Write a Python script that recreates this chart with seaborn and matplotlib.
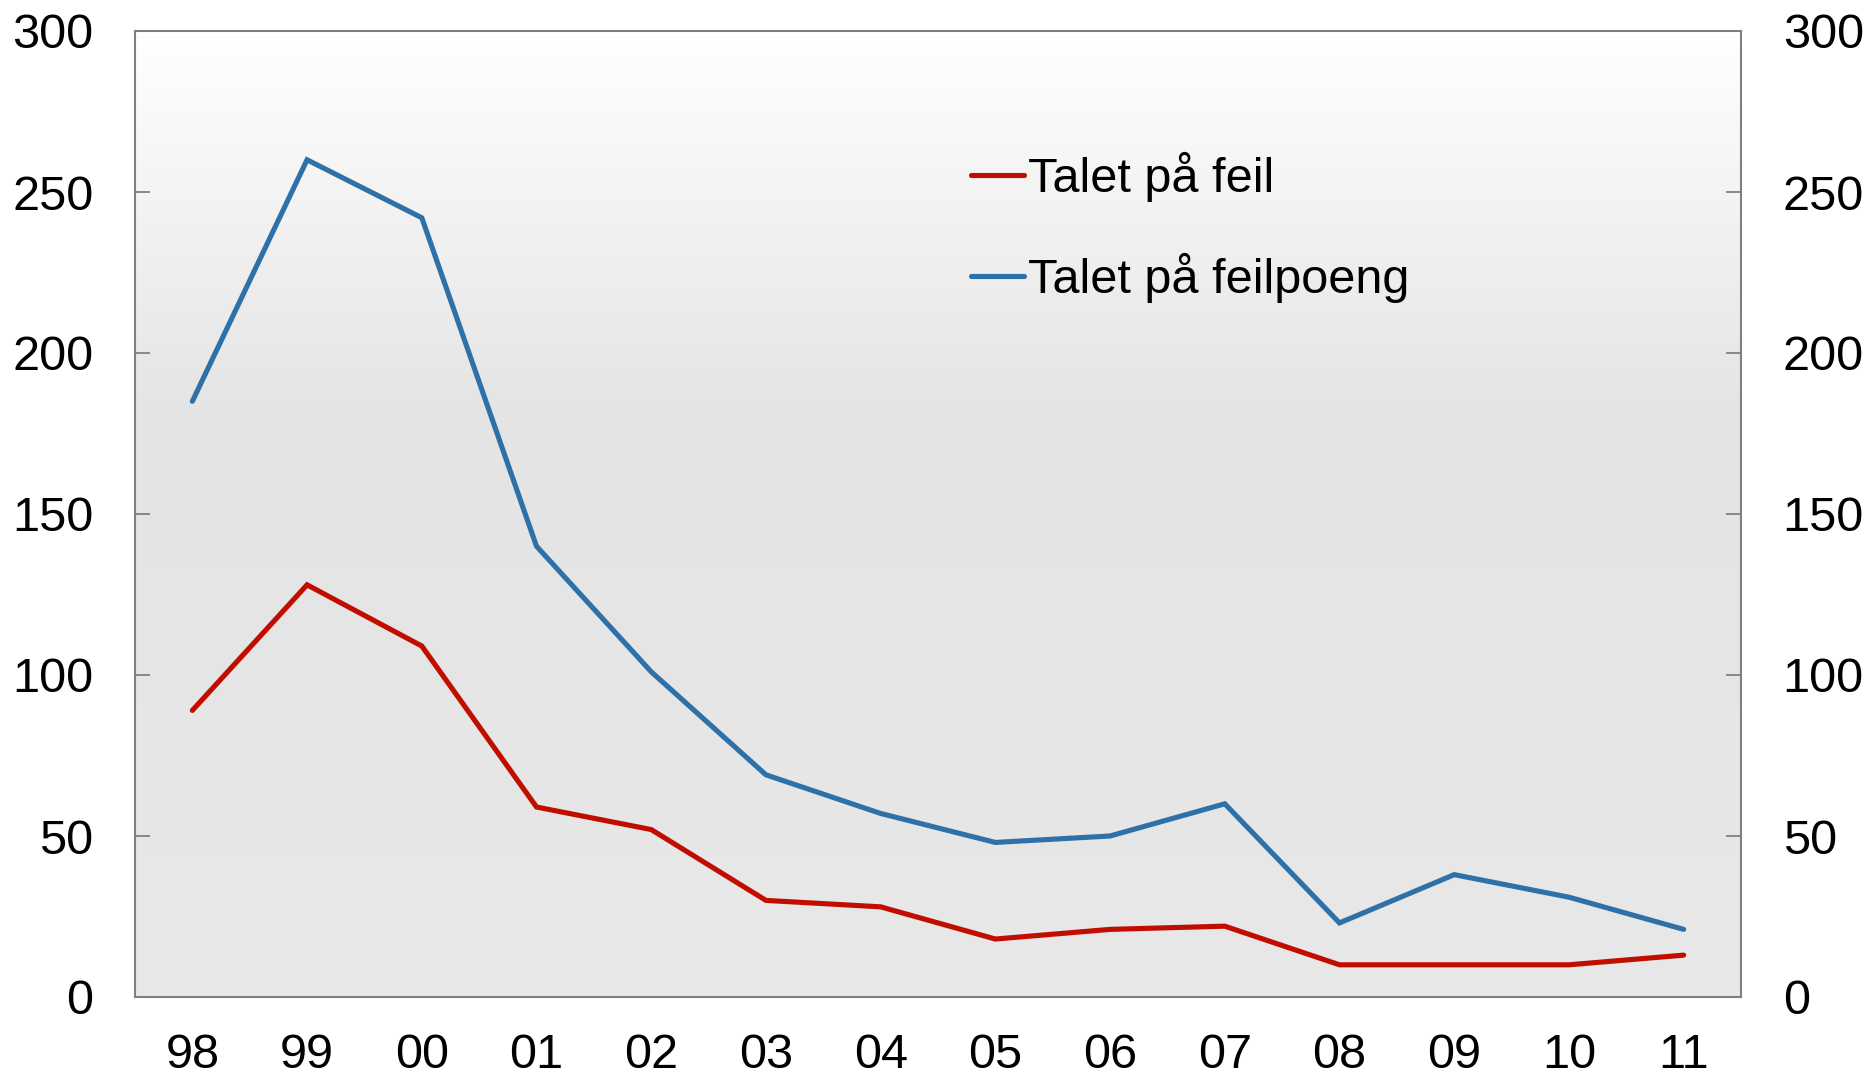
import numpy as np
import pandas as pd
import matplotlib
matplotlib.use("Agg")
import matplotlib.pyplot as plt
import seaborn as sns
from matplotlib.colors import LinearSegmentedColormap

# Data
years = ["98", "99", "00", "01", "02", "03", "04", "05", "06", "07", "08", "09", "10", "11"]
talet_feil = [89, 128, 109, 59, 52, 30, 28, 18, 21, 22, 10, 10, 10, 13]
talet_feilpoeng = [185, 260, 242, 140, 101, 69, 57, 48, 50, 60, 23, 38, 31, 21]
series_names = ["Talet på feil", "Talet på feilpoeng"]
series_colors = ["#C00D00", "#2E71A8"]
y_ticks = [0, 50, 100, 150, 200, 250, 300]

df = pd.concat([
    pd.DataFrame({"pos": range(len(years)), "value": talet_feil, "serie": series_names[0]}),
    pd.DataFrame({"pos": range(len(years)), "value": talet_feilpoeng, "serie": series_names[1]}),
])

sns.set_style("white")
plt.rcParams["font.family"] = ["Liberation Sans", "DejaVu Sans"]
plt.rcParams["text.color"] = "black"
plt.rcParams["xtick.labelcolor"] = "black"
plt.rcParams["ytick.labelcolor"] = "black"

fig = plt.figure(figsize=(18.68, 10.76), dpi=100)
ax = fig.add_axes([135 / 1868, 1 - 997 / 1076, (1741 - 135) / 1868, (997 - 31) / 1076])

# gradient background: white at top fading to light grey
grad = np.linspace(0, 1, 256).reshape(-1, 1)
cmap = LinearSegmentedColormap.from_list(
    "bg", [(0.0, "#ffffff"), (0.4, "#e4e4e4"), (1.0, "#e8e8e8")])
ax.imshow(grad, aspect="auto", cmap=cmap, extent=(-0.5, 13.5, 0, 300), zorder=0)

sns.lineplot(data=df, x="pos", y="value", hue="serie", palette=series_colors,
             linewidth=3.7, ax=ax, legend=True, zorder=3)
for line in ax.lines:
    line.set_solid_capstyle("round")
    line.set_solid_joinstyle("miter")

ax.set_xlim(-0.5, 13.5)
ax.set_ylim(0, 300)
ax.set_xlabel("")
ax.set_ylabel("")

ax.set_xticks(range(len(years)))
ax.set_xticklabels(years)
ax.set_xticks(np.arange(0.5, 13, 1), minor=True)
ax.set_yticks(y_ticks)

ax.tick_params(axis="x", which="major", length=0, pad=26, labelsize=35)
ax.tick_params(axis="x", which="minor", direction="in", length=10, width=1.3, color="#808080")
ax.tick_params(axis="y", direction="in", length=11, width=1.3, color="#808080",
               pad=30, labelsize=35, left=True, right=True, labelleft=True, labelright=True)

for sp in ax.spines.values():
    sp.set_color("#808080")
    sp.set_linewidth(1.5)
    sp.set_visible(True)

handles, labels = ax.get_legend_handles_labels()
leg = ax.legend(handles, labels, loc="upper left", bbox_to_anchor=(971 / 1868, 1 - 152 / 1076),
                bbox_transform=fig.transFigure, frameon=False, fontsize=35,
                handlelength=1.08, handletextpad=0.1, labelspacing=1.05,
                borderpad=0, borderaxespad=0)
for h in leg.get_lines():
    h.set_linewidth(3.7)
for t in leg.get_texts():
    t.set_color("black")

fig.savefig("out.png", dpi=100)
